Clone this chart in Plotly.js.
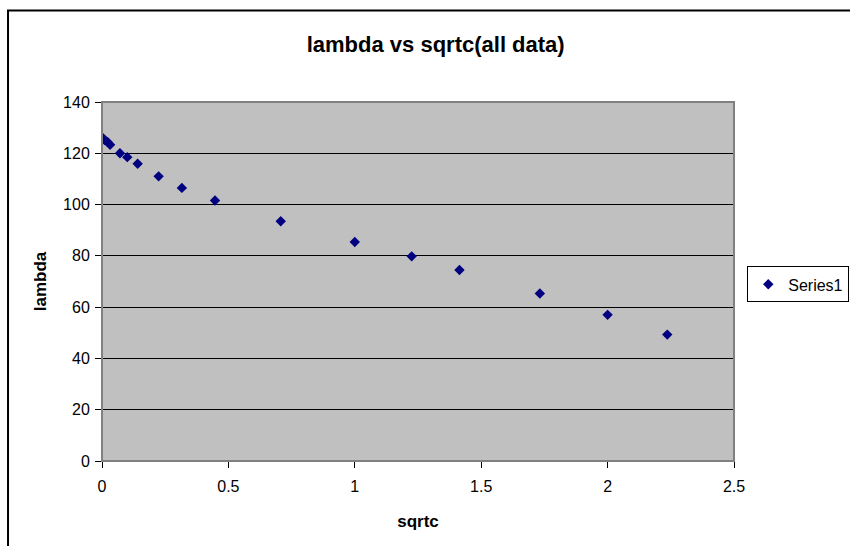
<!DOCTYPE html>
<html>
<head>
<meta charset="utf-8">
<script src="https://cdn.plot.ly/plotly-3.0.1.min.js"></script>
<style>
  html, body { margin: 0; padding: 0; background: #ffffff; overflow: hidden; }
  #chart { width: 850px; height: 546px; }
</style>
</head>
<body>
<div id="chart"></div>
<script>
// Data
const seriesName = "Series1";
const sqrtc = [0.0, 0.01, 0.022, 0.032, 0.071, 0.1, 0.141, 0.224, 0.316, 0.447, 0.707, 1.0, 1.225, 1.414, 1.732, 2.0, 2.236];
const lambda = [126.3, 125.2, 124.4, 123.3, 120.0, 118.5, 115.9, 111.0, 106.5, 101.6, 93.5, 85.4, 79.8, 74.5, 65.3, 57.0, 49.3];
const xTicks = [0, 0.5, 1, 1.5, 2, 2.5];
const xTickText = ["0", "0.5", "1", "1.5", "2", "2.5"];
const yTicks = [0, 20, 40, 60, 80, 100, 120, 140];
const yTickText = ["0", "20", "40", "60", "80", "100", "120", "140"];

const FONT = "Arial, 'Liberation Sans', sans-serif";

const trace = {
  type: "scatter",
  mode: "markers",
  name: seriesName,
  x: sqrtc,
  y: lambda,
  marker: { symbol: "diamond", size: 8, color: "#000080", line: { width: 0 } },
  showlegend: true
};

const layout = {
  width: 850,
  height: 546,
  margin: { l: 102, r: 116, t: 102, b: 85, pad: 0, autoexpand: false },
  paper_bgcolor: "#ffffff",
  plot_bgcolor: "#C0C0C0",
  font: { family: FONT, size: 16, color: "#000000" },
  title: {
    text: "lambda vs sqrtc(all data)",
    font: { family: FONT, size: 22, color: "#000000", weight: "bold" },
    xref: "paper", x: 0.528, xanchor: "center",
    yref: "container", y: 0.918, yanchor: "middle"
  },
  xaxis: {
    range: [0, 2.5],
    tickmode: "array", tickvals: xTicks, ticktext: xTickText,
    showgrid: false, zeroline: false,
    showline: true, linecolor: "#000000", linewidth: 1,
    ticks: "outside", ticklen: 6, tickcolor: "#000000", tickwidth: 1,
    ticklabelstandoff: 5,
    tickfont: { family: FONT, size: 16, color: "#000000" },
    title: { text: "sqrtc", font: { family: FONT, size: 17, color: "#000000", weight: "bold" }, standoff: 20 },
    fixedrange: true
  },
  yaxis: {
    range: [0, 140],
    tickmode: "array", tickvals: yTicks, ticktext: yTickText,
    showgrid: true, gridcolor: "#000000", gridwidth: 1,
    zeroline: false,
    showline: true, linecolor: "#000000", linewidth: 1,
    ticks: "outside", ticklen: 6, tickcolor: "#000000", tickwidth: 1,
    ticklabelstandoff: 2,
    tickfont: { family: FONT, size: 16, color: "#000000" },
    title: { text: "lambda", font: { family: FONT, size: 17, color: "#000000", weight: "bold" }, standoff: 12 },
    fixedrange: true
  },
  shapes: [
    { type: "rect", xref: "paper", yref: "paper", x0: 0, x1: 1, y0: 0, y1: 1,
      line: { color: "#808080", width: 2 }, fillcolor: "rgba(0,0,0,0)", layer: "above" },
    // outer chart-area frame (left and top edges; the rest lies outside the picture)
    { type: "line", xref: "paper", yref: "paper", x0: -0.1487, x1: -0.1487, y0: -0.26, y1: 1.2549,
      line: { color: "#000000", width: 2 } },
    { type: "line", xref: "paper", yref: "paper", x0: -0.1503, x1: 1.2, y0: 1.2549, y1: 1.2549,
      line: { color: "#000000", width: 2 } }
  ],
  legend: {
    x: 1.021, xanchor: "left",
    y: 0.542, yanchor: "top",
    bgcolor: "#ffffff",
    bordercolor: "#000000", borderwidth: 1,
    font: { family: FONT, size: 16, color: "#000000" }
  },
  showlegend: true
};

Plotly.newPlot("chart", [trace], layout, { displayModeBar: false, staticPlot: true });
</script>
</body>
</html>
